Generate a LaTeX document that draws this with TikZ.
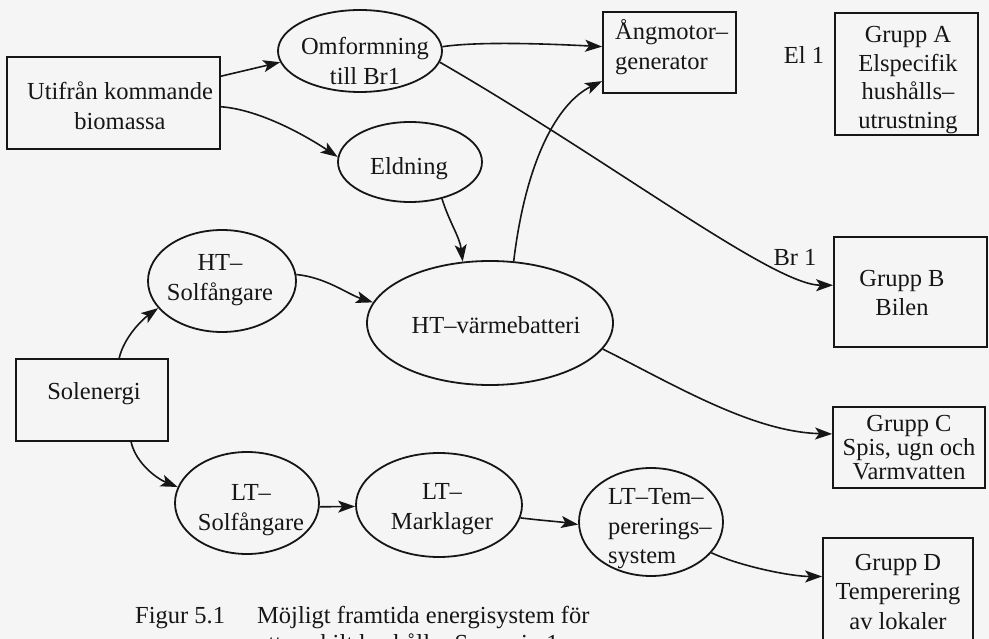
\documentclass[tikz,border=0pt]{standalone}
\usepackage{fontspec}
\setmainfont{Liberation Serif}
\usetikzlibrary{shapes.geometric,arrows.meta}
\definecolor{paper}{RGB}{245,245,245}
\definecolor{ink}{RGB}{22,22,22}
\begin{document}
\begin{tikzpicture}[x=1pt,y=-1pt,
  every node/.style={font=\fontsize{24.5}{29.5}\selectfont, text=ink, inner sep=0pt},
  box/.style={draw=ink, line width=1.8pt, rectangle},
  oval/.style={draw=ink, line width=1.8pt, ellipse},
  flow/.style={draw=ink, line width=1.6pt, -{Stealth[length=17pt,width=12pt,inset=4pt]}},
]
\useasboundingbox (0,0) rectangle (989,639);
\fill[paper] (0,0) rectangle (989,639);

% sources
\node[box, minimum width=213pt, minimum height=92pt] (bio) at (113.5,103) {};
\node[align=center] (bio-t) at (120,106) {Utifrån kommande\\biomassa};
\node[box, minimum width=152pt, minimum height=82pt] (sol) at (92,400) {};
\node (sol-t) at (94,394) {Solenergi};

% conversion and storage stages
\node[oval, minimum width=164pt, minimum height=82pt] (omf) at (360,51) {};
\node[align=center] (omf-t) at (365,61) {Omformning\\till Br1};
\node[oval, minimum width=144pt, minimum height=80pt] (eld) at (410,162) {};
\node (eld-t) at (409,169) {Eldning};
\node[oval, minimum width=148pt, minimum height=102pt] (htsol) at (222,281) {};
\node[align=center] (htsol-t) at (220,280) {HT–\\Solfångare};
\node[oval, minimum width=246pt, minimum height=124pt] (htv) at (490,323) {};
\node (htv-t) at (496,325) {HT–värmebatteri};
\node[oval, minimum width=144pt, minimum height=102pt] (ltsol) at (247,503) {};
\node[align=center] (ltsol-t) at (251,510) {LT–\\Solfångare};
\node[oval, minimum width=166pt, minimum height=104pt] (ltm) at (439,505) {};
\node[align=center] (ltm-t) at (442,509) {LT–\\Marklager};
\node[oval, minimum width=144pt, minimum height=108pt] (ltt) at (651,522) {};
\node[align=left, anchor=west] (ltt-t) at (608,529) {LT–Tem–\\pererings–\\system};
\node[box, minimum width=133pt, minimum height=81pt] (ang) at (669.5,52.5) {};
\node[align=left, anchor=west] (ang-t) at (615,47) {Ångmotor–\\generator};

% consumer groups
\node (el1) at (804,55) {El 1};
\node[box, minimum width=143pt, minimum height=122pt] (ga) at (906.5,74) {};
\node[align=center, font=\fontsize{24.5}{28.5}\selectfont] (ga-t) at (908,80) {Grupp A\\Elspecifik\\hushålls–\\utrustning};
\node[box, minimum width=153pt, minimum height=110pt] (gb) at (910.5,292) {};
\node[align=center] (gb-t) at (902,293) {Grupp B\\Bilen};
\node (br1) at (795,257) {Br 1};
\node[box, minimum width=152pt, minimum height=81pt, align=center,
      font=\fontsize{24.5}{24}\selectfont] (gc) at (909,447.5) {Grupp C\\Spis, ugn och\\Varmvatten};
\node[box, minimum width=150pt, minimum height=112pt] (gd) at (898,594) {};
\node[align=center] (gd-t) at (898,592) {Grupp D\\Temperering\\av lokaler};

% energy flows
\draw[flow] (bio.14) -- (omf.188);
\draw[flow] (bio.-2) .. controls +(40,3) and +(-30,-20) .. (eld.176);
\draw[flow] (omf.3) .. controls +(40,-6) and +(-40,-2) .. (ang.175);
\draw[flow] (omf.-8) .. controls +(173,100) and +(-60,0) .. (gb.175);
\draw[flow] (eld.-49) .. controls +(8,25) and +(-3,-25) .. (htv.114);
\draw[flow] (htv.69) .. controls +(12,-100) and +(-45,22) .. (ang.203);
\draw[flow] (htsol.5) .. controls +(30,3) and +(-25,-8) .. (htv.170);
\draw[flow] (sol.57) .. controls +(5,-22) and +(-14,10) .. (htsol.203);
\draw[flow] (sol.-47) .. controls +(5,22) and +(-20,-8) .. (ltsol.167);
\draw[flow] (ltsol.-3) -- (ltm.181);
\draw[flow] (ltm.-9) .. controls +(25,3) and +(-20,-3) .. (ltt.182);
\draw[flow] (ltt.-27) .. controls +(30,14) and +(-30,0) .. (gd.167);
\draw[flow] (htv.-13) .. controls +(70,35) and +(-80,-2) .. (gc.170);

% caption
\node[anchor=base west] (fig) at (135,623) {Figur 5.1};
\node[anchor=base west] (cap1) at (257,623) {Möjligt framtida energisystem för};
\node[anchor=base west] (cap2) at (257,651) {att enskilt hushåll – Scenario 1};
\end{tikzpicture}
\end{document}
